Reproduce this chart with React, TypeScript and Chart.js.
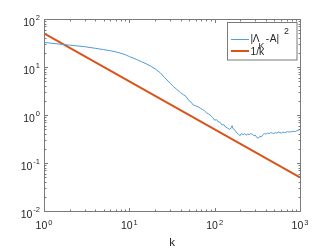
import React, { useEffect, useRef } from "react";
import { Chart, registerables } from "chart.js";

Chart.register(...registerables);

const kValues = [1, 2, 3, 4, 5, 6, 7, 8, 9, 10, 12, 14, 16, 18, 20, 23, 26, 30, 33, 36, 40, 43, 46, 50, 53, 56, 60, 64, 68, 72, 76, 80, 85, 90, 95, 100, 105, 110, 116, 122, 128, 135, 142, 150, 156, 160, 164, 170, 176, 183, 190, 198, 206, 215, 224, 233, 243, 253, 264, 275, 287, 299, 312, 325, 339, 353, 368, 384, 400, 417, 435, 453, 472, 492, 513, 535, 558, 581, 606, 632, 659, 687, 716, 746, 778, 811, 845, 881, 918, 957, 1000];
const errValues = [32.5, 28.5, 26.5, 24.5, 23, 21.8, 20.6, 19.3, 18, 16.5, 14.5, 12.8, 11.5, 10.3, 9.2, 7.6, 6.0, 4.6, 3.9, 3.4, 2.9, 2.65, 2.45, 2.0, 1.85, 1.62, 1.55, 1.48, 1.38, 1.3, 1.22, 1.12, 1.05, 0.98, 0.88, 0.78, 0.8, 0.72, 0.7, 0.62, 0.63, 0.56, 0.53, 0.5, 0.54, 0.6, 0.52, 0.5, 0.46, 0.42, 0.4, 0.37, 0.41, 0.39, 0.41, 0.38, 0.4, 0.39, 0.41, 0.4, 0.37, 0.38, 0.34, 0.33, 0.36, 0.35, 0.39, 0.41, 0.4, 0.42, 0.41, 0.43, 0.42, 0.41, 0.43, 0.42, 0.44, 0.43, 0.42, 0.44, 0.43, 0.44, 0.45, 0.44, 0.45, 0.45, 0.46, 0.45, 0.47, 0.48, 0.5];
const refK = [1, 1000];
const refValues = [50, 0.05];

const xTicks = [1, 10, 100, 1000];
const xExponents = ["0", "1", "2", "3"];
const yTicks = [0.01, 0.1, 1, 10, 100];
const yExponents = ["-2", "-1", "0", "1", "2"];
const xLabel = "k";

const BLUE = "rgb(80,155,215)";
const RED = "#D95319";
const AXIS = "#7a7a7a";
const TEXT = "#262626";
const FONT = "'Liberation Sans', Arial, Helvetica, sans-serif";

const decorPlugin = {
  id: "matlabDecor",
  afterDraw(chart: any) {
    const ctx = chart.ctx as CanvasRenderingContext2D;
    const { left, right, top, bottom } = chart.chartArea;
    const xs = chart.scales.x;
    const ys = chart.scales.y;
    ctx.save();
    ctx.strokeStyle = AXIS;
    ctx.lineWidth = 1;
    const L = Math.round(left) + 0.5;
    const R = Math.round(right) + 0.5;
    const T = Math.round(top) + 0.5;
    const B = Math.round(bottom) + 0.5;
    ctx.strokeRect(L, T, R - L, B - T);
    // ticks
    ctx.beginPath();
    for (let d = 0; d < xTicks.length; d++) {
      for (let m = 1; m <= 9; m++) {
        const v = xTicks[d] * m;
        if (v > xTicks[xTicks.length - 1]) break;
        const px = Math.round(xs.getPixelForValue(v)) + 0.5;
        const len = m === 1 ? 3.5 : 2;
        ctx.moveTo(px, B);
        ctx.lineTo(px, B - len);
        ctx.moveTo(px, T);
        ctx.lineTo(px, T + len);
      }
    }
    for (let d = 0; d < yTicks.length; d++) {
      for (let m = 1; m <= 9; m++) {
        const v = yTicks[d] * m;
        if (v > yTicks[yTicks.length - 1]) break;
        const py = Math.round(ys.getPixelForValue(v)) + 0.5;
        const len = m === 1 ? 3.5 : 2;
        ctx.moveTo(L, py);
        ctx.lineTo(L + len, py);
        ctx.moveTo(R, py);
        ctx.lineTo(R - len, py);
      }
    }
    ctx.stroke();

    // tick labels
    ctx.fillStyle = TEXT;
    ctx.textBaseline = "alphabetic";
    const baseFont = `10.5px ${FONT}`;
    const supFont = `7.5px ${FONT}`;
    for (let i = 0; i < xTicks.length; i++) {
      const px = xs.getPixelForValue(xTicks[i]);
      ctx.font = baseFont;
      const w1 = ctx.measureText("10").width;
      ctx.font = supFont;
      const w2 = ctx.measureText(xExponents[i]).width;
      const x0 = px - (w1 + w2 + 1) / 2;
      ctx.font = baseFont;
      ctx.textAlign = "left";
      ctx.fillText("10", x0, bottom + 18);
      ctx.font = supFont;
      ctx.fillText(xExponents[i], x0 + w1 + 1, bottom + 14);
    }
    for (let i = 0; i < yTicks.length; i++) {
      const py = ys.getPixelForValue(yTicks[i]);
      ctx.font = supFont;
      const w2 = ctx.measureText(yExponents[i]).width;
      ctx.font = baseFont;
      const w1 = ctx.measureText("10").width;
      const xEnd = left - 4;
      ctx.textAlign = "left";
      ctx.fillText("10", xEnd - w2 - 1 - w1, py + 6.5);
      ctx.font = supFont;
      ctx.fillText(yExponents[i], xEnd - w2, py + 1);
    }
    // x axis label
    ctx.font = `11.5px ${FONT}`;
    ctx.textAlign = "center";
    ctx.fillText(xLabel, (left + right) / 2, bottom + 34.5);

    // legend
    const lx = 227.5, ly = 22.5, lw = 69.5, lh = 37.5;
    ctx.fillStyle = "#ffffff";
    ctx.fillRect(lx, ly, lw, lh);
    ctx.strokeStyle = AXIS;
    ctx.lineWidth = 1;
    ctx.strokeRect(lx, ly, lw, lh);
    ctx.lineWidth = 1;
    ctx.strokeStyle = BLUE;
    ctx.beginPath();
    ctx.moveTo(231, 39.5);
    ctx.lineTo(249, 39.5);
    ctx.stroke();
    ctx.lineWidth = 2;
    ctx.strokeStyle = RED;
    ctx.beginPath();
    ctx.moveTo(231, 51);
    ctx.lineTo(249, 51);
    ctx.stroke();

    ctx.fillStyle = TEXT;
    ctx.textAlign = "left";
    const lf = `10.2px ${FONT}`;
    const ls = `8.8px ${FONT}`;
    ctx.font = lf;
    ctx.fillText("|", 250.5, 42);
    ctx.fillText("\u039B", 252.8, 42);
    ctx.font = ls;
    ctx.fillText("K", 258.6, 48.7);
    ctx.font = lf;
    ctx.fillText("-", 265.8, 42);
    ctx.fillText("A", 269.8, 42);
    ctx.fillText("|", 276.6, 42);
    ctx.font = ls;
    ctx.fillText("2", 284, 33.5);
    ctx.font = lf;
    ctx.fillText("1/k", 250.5, 55.3);
    ctx.restore();
  },
};

export default function App() {
  const ref = useRef<HTMLCanvasElement | null>(null);
  useEffect(() => {
    document.body.style.margin = "0";
    const canvas = ref.current;
    if (!canvas) return;
    const chart = new Chart(canvas, {
      type: "line",
      data: {
        datasets: [
          {
            label: "|\u039BK - A|^2",
            data: kValues.map((k, i) => ({ x: k, y: errValues[i] })),
            borderColor: BLUE,
            borderWidth: 1,
            pointRadius: 0,
            tension: 0,
            fill: false,
          },
          {
            label: "1/k",
            data: refK.map((k, i) => ({ x: k, y: refValues[i] })),
            borderColor: RED,
            borderWidth: 2,
            pointRadius: 0,
            tension: 0,
            fill: false,
          },
        ],
      },
      options: {
        responsive: false,
        animation: false,
        devicePixelRatio: 1,
        layout: { padding: { left: 44, right: 32, top: 19, bottom: 38 } },
        plugins: { legend: { display: false }, tooltip: { enabled: false } },
        scales: {
          x: { type: "logarithmic", min: 1, max: 1000, display: false },
          y: { type: "logarithmic", min: 0.01, max: 100, display: false },
        },
      },
      plugins: [decorPlugin],
    });
    return () => chart.destroy();
  }, []);
  return (
    <div style={{ position: "absolute", left: 0, top: 0, width: 332, height: 249, background: "#fff" }}>
      <canvas ref={ref} width={332} height={249} style={{ display: "block" }} />
    </div>
  );
}
